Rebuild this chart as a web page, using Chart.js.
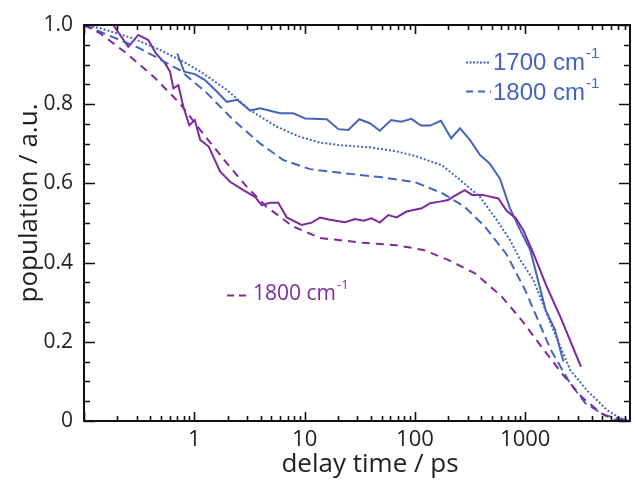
<!DOCTYPE html>
<html>
<head>
<meta charset="utf-8">
<script src="https://cdn.jsdelivr.net/npm/chart.js@4/dist/chart.umd.min.js"></script>
<style>
    html, body { margin: 0; padding: 0; background: #fff; }
    #wrap { width: 635px; height: 481px; position: relative; }
</style>
</head>
<body>
<div id="wrap"><canvas id="popChart"></canvas></div>
<script>
const BLUE = '#4664be';
const PURPLE = '#7d2a9c';

// measured population, blue (solid)
const blueTimes = [0.70, 0.81, 1.01, 1.25, 1.6, 1.97, 2.45, 3.2, 3.94, 6.0, 7.9, 10.1, 15.9, 20.2, 24.9, 31.3, 39, 48, 60.8, 75, 93, 113, 137, 172, 213, 256, 315, 388, 473, 590, 727, 900, 1110, 1530, 1860, 2215];
const blueValues = [0.928, 0.882, 0.876, 0.861, 0.832, 0.806, 0.811, 0.784, 0.79, 0.777, 0.777, 0.764, 0.762, 0.737, 0.735, 0.762, 0.752, 0.733, 0.760, 0.756, 0.763, 0.746, 0.746, 0.758, 0.714, 0.739, 0.71, 0.672, 0.651, 0.612, 0.537, 0.482, 0.432, 0.28, 0.23, 0.15];

// measured population, purple (solid)
const purpleTimes = [0.184, 0.252, 0.31, 0.383, 0.449, 0.543, 0.603, 0.646, 0.716, 0.795, 0.90, 1.01, 1.13, 1.35, 1.49, 1.71, 2.11, 2.78, 3.55, 4.08, 4.85, 5.77, 6.88, 9.4, 11.6, 13.8, 16.9, 23.2, 28.6, 34.1, 40.5, 48, 57.3, 68, 84, 115, 137, 168, 200, 221, 282, 330, 410, 570, 678, 820, 960, 1185, 1567, 2080, 3200];
const purpleValues = [1.0, 0.945, 0.975, 0.962, 0.928, 0.903, 0.882, 0.84, 0.848, 0.794, 0.747, 0.76, 0.71, 0.693, 0.667, 0.63, 0.604, 0.583, 0.566, 0.545, 0.551, 0.551, 0.514, 0.495, 0.501, 0.514, 0.508, 0.502, 0.51, 0.506, 0.512, 0.501, 0.52, 0.514, 0.529, 0.537, 0.55, 0.554, 0.558, 0.566, 0.583, 0.571, 0.571, 0.562, 0.531, 0.512, 0.482, 0.423, 0.339, 0.263, 0.137];

// fit 1700 cm-1 (blue dotted)
const fit1700Times = [0.1, 0.14, 0.28, 0.49, 0.85, 1.2, 1.97, 3.2, 5.6, 9, 13.8, 22, 39, 68, 104, 137, 175, 256, 388, 551, 727, 900, 1185, 1795, 2555, 3600, 5500, 7200, 8900];
const fit1700Values = [1.0, 0.992, 0.966, 0.937, 0.903, 0.878, 0.836, 0.785, 0.743, 0.718, 0.703, 0.696, 0.691, 0.681, 0.668, 0.656, 0.646, 0.609, 0.566, 0.508, 0.457, 0.407, 0.356, 0.23, 0.129, 0.078, 0.028, 0.007, 0.002];

// fit 1800 cm-1 (blue dashed)
const fit1800BlueTimes = [0.1, 0.14, 0.32, 0.74, 1.3, 2.26, 3.94, 6.4, 11.2, 20.8, 48, 100, 175, 282, 430, 680, 1000, 1700, 2555, 3500, 5170, 8900];
const fit1800BlueValues = [1.0, 0.983, 0.941, 0.886, 0.828, 0.76, 0.701, 0.659, 0.636, 0.627, 0.616, 0.603, 0.576, 0.541, 0.491, 0.42, 0.33, 0.18, 0.095, 0.045, 0.015, 0.0];

// fit 1800 cm-1 (purple dashed)
const fit1800PurpleTimes = [0.1, 0.14, 0.244, 0.43, 0.74, 1.13, 1.97, 2.98, 4.5, 7.9, 13.8, 34, 68, 119, 200, 350, 613, 925, 1400, 2150, 3240, 4900, 6500, 8900];
const fit1800PurpleValues = [1.0, 0.979, 0.928, 0.869, 0.802, 0.735, 0.651, 0.592, 0.541, 0.491, 0.462, 0.450, 0.444, 0.432, 0.407, 0.373, 0.314, 0.255, 0.188, 0.12, 0.061, 0.019, 0.003, 0.0];

const xMajorTicks = [1, 10, 100, 1000];
const yTicks = [0, 0.2, 0.4, 0.6, 0.8, 1.0];
const yTickLabels = ['0', '0.2', '0.4', '0.6', '0.8', '1.0'];

function toPoints(ts, vs) {
    return ts.map((t, i) => ({ x: t, y: vs[i] }));
}

function lineSet(ts, vs, color, dash) {
    return {
        data: toPoints(ts, vs),
        borderColor: color,
        borderWidth: 2,
        borderDash: dash,
        pointRadius: 0,
        showLine: true,
        tension: 0,
        fill: false
    };
}

// inward ticks on all four sides, frame, axis titles and the two legends
const frameTicks = {
    id: 'frameTicks',
    afterDraw(chart) {
        const ctx = chart.ctx;
        const a = chart.chartArea;
        const xs = chart.scales.x;
        const ys = chart.scales.y;
        ctx.save();
        ctx.strokeStyle = '#111';
        ctx.lineWidth = 1.6;
        for (let d = 0.1; d < 10000; d *= 10) {
            for (let k = 1; k <= 9; k++) {
                const v = d * k;
                if (v < 0.1 || v > 8900) continue;
                const px = Math.round(xs.getPixelForValue(v)) + 0.5;
                const len = (k === 1) ? 9 : 5;
                ctx.beginPath();
                ctx.moveTo(px, a.bottom); ctx.lineTo(px, a.bottom - len);
                ctx.moveTo(px, a.top); ctx.lineTo(px, a.top + len);
                ctx.stroke();
            }
        }
        for (let i = 0; i <= 20; i++) {
            const v = i * 0.05;
            const py = Math.round(ys.getPixelForValue(v)) + 0.5;
            const len = (i % 4 === 0) ? 11 : 6;
            ctx.beginPath();
            ctx.moveTo(a.left, py); ctx.lineTo(a.left + len, py);
            ctx.moveTo(a.right, py); ctx.lineTo(a.right - len, py);
            ctx.stroke();
        }
        ctx.lineWidth = 2;
        ctx.strokeRect(a.left, a.top, a.right - a.left, a.bottom - a.top);

        // axis titles
        ctx.fillStyle = '#222';
        ctx.font = '26px "Open Sans", sans-serif';
        ctx.textAlign = 'center';
        ctx.textBaseline = 'alphabetic';
        ctx.fillText('delay time / ps', 370, 472);
        ctx.save();
        ctx.translate(37, 203);
        ctx.rotate(-Math.PI / 2);
        ctx.fillText('population / a.u.', 0, 0);
        ctx.restore();
        ctx.textAlign = 'left';

        // legends
        ctx.lineWidth = 2;
        ctx.strokeStyle = BLUE;
        ctx.fillStyle = BLUE;
        ctx.setLineDash([2, 1.5]);
        ctx.beginPath(); ctx.moveTo(466, 62.5); ctx.lineTo(490, 62.5); ctx.stroke();
        ctx.setLineDash([7, 5]);
        ctx.beginPath(); ctx.moveTo(466, 91.5); ctx.lineTo(491, 91.5); ctx.stroke();
        ctx.setLineDash([]);
        ctx.font = '24px "Liberation Sans", Arial, sans-serif';
        ctx.fillText('1700 cm', 493, 70);
        ctx.fillText('1800 cm', 493, 100);
        let w = ctx.measureText('1700 cm').width;
        let w2 = ctx.measureText('1800 cm').width;
        ctx.font = '15px "Liberation Sans", Arial, sans-serif';
        ctx.fillText('-1', 493 + w + 1, 58);
        ctx.fillText('-1', 493 + w2 + 1, 88);

        ctx.strokeStyle = PURPLE;
        ctx.fillStyle = PURPLE;
        ctx.setLineDash([7, 5]);
        ctx.beginPath(); ctx.moveTo(227, 295.5); ctx.lineTo(251, 295.5); ctx.stroke();
        ctx.setLineDash([]);
        ctx.font = '21px "Open Sans", sans-serif';
        ctx.fillText('1800 cm', 253, 300);
        w = ctx.measureText('1800 cm').width;
        ctx.font = '13px "Open Sans", sans-serif';
        ctx.fillText('-1', 253 + w + 1, 289);
        ctx.restore();
    }
};

new Chart(document.getElementById('popChart'), {
    type: 'scatter',
    data: {
        datasets: [
            lineSet(fit1800PurpleTimes, fit1800PurpleValues, PURPLE, [8, 6]),
            lineSet(fit1800BlueTimes, fit1800BlueValues, BLUE, [9, 5]),
            lineSet(fit1700Times, fit1700Values, BLUE, [2, 2]),
            lineSet(purpleTimes, purpleValues, PURPLE, []),
            lineSet(blueTimes, blueValues, BLUE, [])
        ]
    },
    options: {
        responsive: true,
        maintainAspectRatio: false,
        animation: false,
        layout: { padding: { top: 25, right: 5, left: 0, bottom: 0 } },
        plugins: { legend: { display: false }, tooltip: { enabled: false } },
        scales: {
            x: {
                type: 'logarithmic',
                min: 0.1,
                max: 8900,
                afterBuildTicks: (scale) => { scale.ticks = xMajorTicks.map(v => ({ value: v })); },
                afterFit: (scale) => { scale.height = 60; },
                grid: { display: false, drawTicks: false },
                border: { display: false },
                ticks: {
                    color: '#222',
                    font: { family: '"Open Sans", sans-serif', size: 22 },
                    padding: 6,
                    maxRotation: 0,
                    autoSkip: false,
                    callback: (v) => String(v)
                }
            },
            y: {
                min: 0,
                max: 1,
                afterBuildTicks: (scale) => { scale.ticks = yTicks.map(v => ({ value: v })); },
                afterFit: (scale) => { scale.width = 84; },
                grid: { display: false, drawTicks: false },
                border: { display: false },
                ticks: {
                    color: '#222',
                    font: { family: '"Open Sans", sans-serif', size: 21 },
                    padding: 11,
                    callback: (v, i) => yTickLabels[i]
                }
            }
        }
    },
    plugins: [frameTicks]
});
</script>
</body>
</html>
